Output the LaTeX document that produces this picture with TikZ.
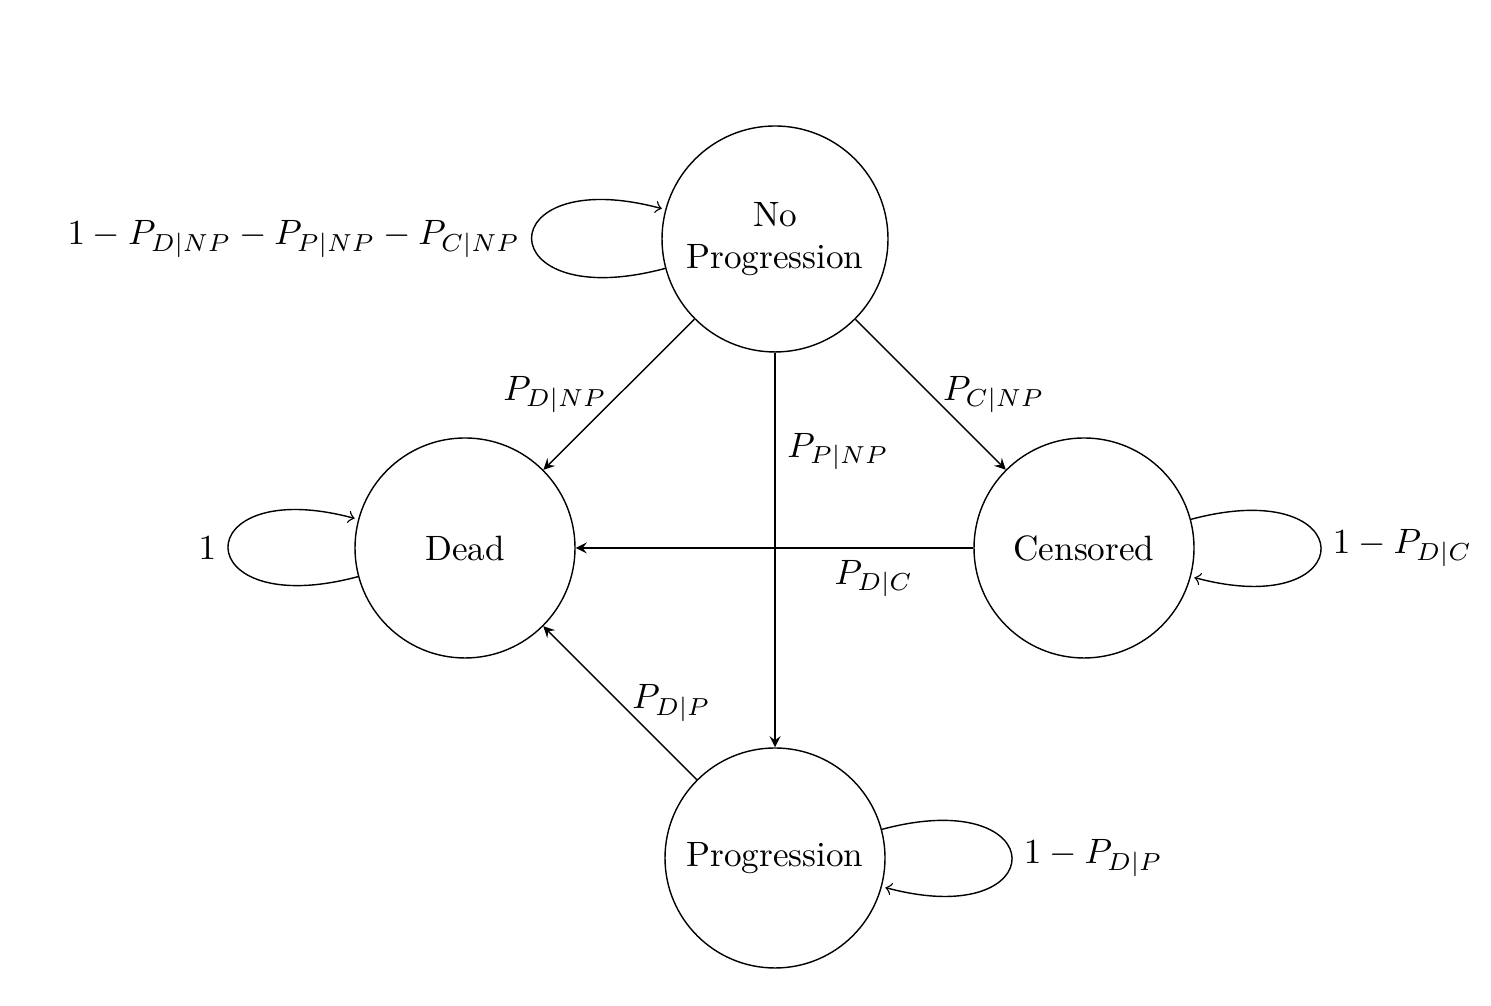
\documentclass[tikz,border=0pt]{standalone}
\usetikzlibrary{arrows}
\begin{document}
\begin{tikzpicture}[x=0.28409pt, y=0.28409pt,
  state/.style={circle, draw, minimum size=62.5pt, align=center, inner sep=0pt},
  tr/.style={draw, -stealth},
  lp/.style={draw, ->, shorten >=1pt},
  every loop/.style={}]
\useasboundingbox (0,0) rectangle (1491,1006);
\node[state, minimum size=64.2pt] (np) at (775,767) {No\\Progression};
\node[state] (dead) at (465,458) {Dead};
\node[state] (cens) at (1084,458) {Censored};
\node[state] (prog) at (775,148) {Progression};

\draw[tr] (np) -- node[left] {$P_{D|NP}$} (dead);
\draw[tr] (np) -- node[right] {$P_{C|NP}$} (cens);
\draw[tr] (np) -- node[near start, right] {$P_{P|NP}$} (prog);
\draw[tr] (cens) -- node[near start, below] {$P_{D|C}$} (dead);
\draw[tr] (prog) -- node[right] {$P_{D|P}$} (dead);

\path (np) edge[lp, loop left] node[left] {$1-P_{D|NP}-P_{P|NP}-P_{C|NP}$} ();
\path (dead) edge[lp, loop left] node[left] {$1$} ();
\path (cens) edge[lp, loop right] node[right] {$1-P_{D|C}$} ();
\path (prog) edge[lp, loop right] node[right] {$1-P_{D|P}$} ();
\end{tikzpicture}
\end{document}
